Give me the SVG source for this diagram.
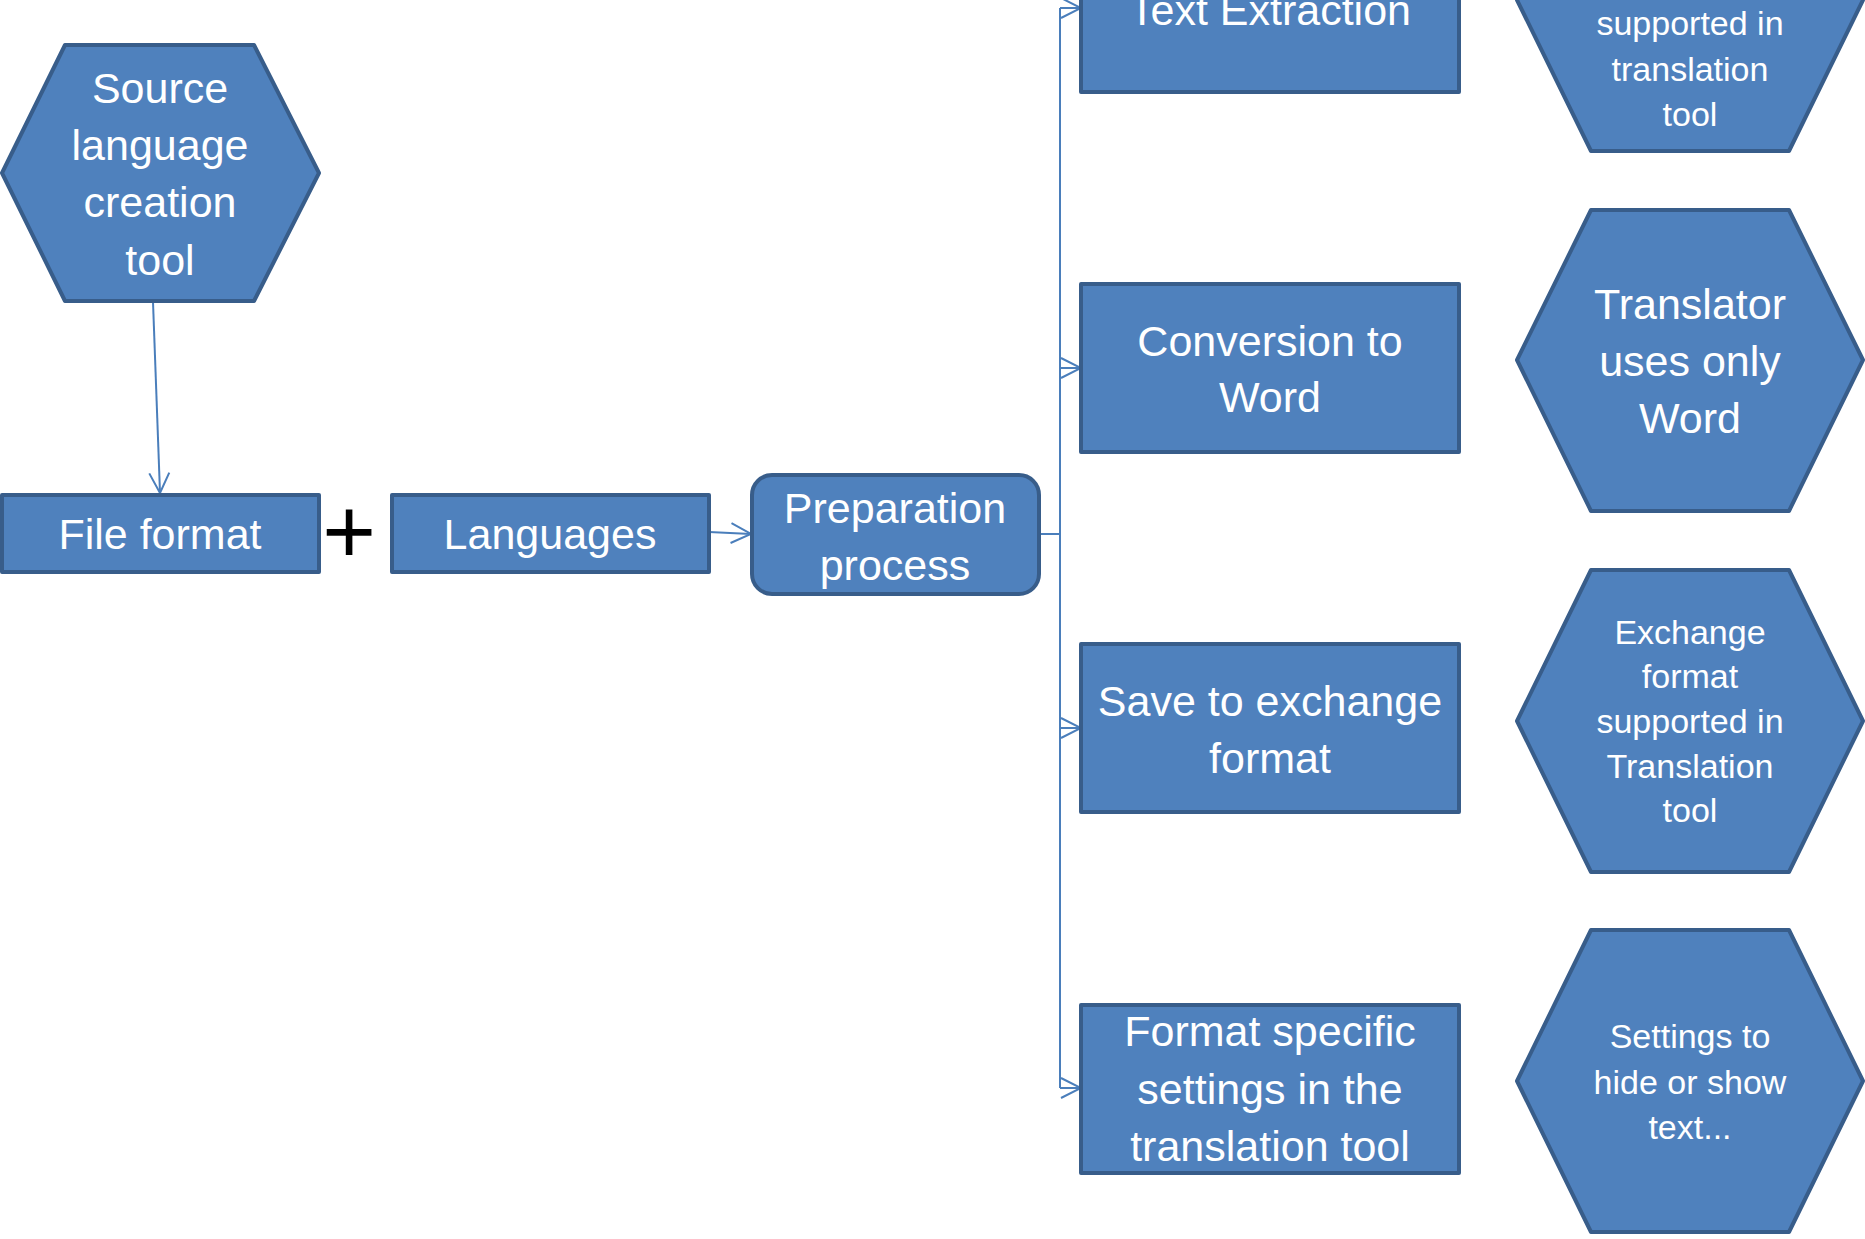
<svg xmlns="http://www.w3.org/2000/svg" width="1865" height="1239" viewBox="0 0 1865 1239">
<defs>
<style>
.n{fill:#4F81BD;stroke:#385D8A;stroke-width:4;stroke-linejoin:round}
.t{font-family:"Liberation Sans",Arial,sans-serif;fill:#FFFFFF;text-anchor:middle;font-size:43px}
.s{font-size:34px}
.c{fill:none;stroke:#4A7EBB;stroke-width:2}
</style>
<marker id="a" viewBox="0 0 24 24" refX="22" refY="12" markerWidth="24" markerHeight="24" markerUnits="userSpaceOnUse" orient="auto">
<path d="M2,2 L22,12 L2,22" fill="none" stroke="#4A7EBB" stroke-width="2"/>
</marker>
</defs>
<rect width="1865" height="1239" fill="#FFFFFF"/>
<g id="connectors">
<path class="c" d="M153,302 L160,493" marker-end="url(#a)"/>
<path class="c" d="M709,532 L751,534" marker-end="url(#a)"/>
<path class="c" d="M1039,534 L1060,534"/>
<path class="c" d="M1060,8 L1060,1088"/>
<path class="c" d="M1060,8 L1081,8" marker-end="url(#a)"/>
<path class="c" d="M1060,368 L1081,368" marker-end="url(#a)"/>
<path class="c" d="M1060,728 L1081,728" marker-end="url(#a)"/>
<path class="c" d="M1060,1088 L1081,1088" marker-end="url(#a)"/>
</g>
<g id="source">
<polygon class="n" points="2,173 65,45 254,45 319,173 254,301 65,301"/>
<text class="t" x="160" y="103">Source</text>
<text class="t" x="160" y="160">language</text>
<text class="t" x="160" y="217">creation</text>
<text class="t" x="160" y="275">tool</text>
</g>
<g id="fileformat">
<rect class="n" x="2" y="495" width="317" height="77"/>
<text class="t" x="160" y="549">File format</text>
</g>
<g id="plus">
<text x="349" y="563" font-family="Liberation Sans,Arial,sans-serif" font-size="92" fill="#000000" text-anchor="middle">+</text>
</g>
<g id="languages">
<rect class="n" x="392" y="495" width="317" height="77"/>
<text class="t" x="550" y="549">Languages</text>
</g>
<g id="preparation">
<rect class="n" x="752" y="475" width="287" height="119" rx="20" ry="20"/>
<text class="t" x="895" y="523">Preparation</text>
<text class="t" x="895" y="580">process</text>
</g>
<g id="textextraction">
<rect class="n" x="1081" y="-76" width="378" height="168"/>
<text class="t" x="1270" y="25">Text Extraction</text>
</g>
<g id="conversion">
<rect class="n" x="1081" y="284" width="378" height="168"/>
<text class="t" x="1270" y="356">Conversion to</text>
<text class="t" x="1270" y="412">Word</text>
</g>
<g id="save">
<rect class="n" x="1081" y="644" width="378" height="168"/>
<text class="t" x="1270" y="716">Save to exchange</text>
<text class="t" x="1270" y="773">format</text>
</g>
<g id="formatspecific">
<rect class="n" x="1081" y="1005" width="378" height="168"/>
<text class="t" x="1270" y="1046">Format specific</text>
<text class="t" x="1270" y="1104">settings in the</text>
<text class="t" x="1270" y="1161">translation tool</text>
</g>
<g id="hex1">
<polygon class="n" points="1517,0 1591,-151 1789,-151 1863,0 1789,151 1591,151"/>
<text class="t s" x="1690" y="35">supported in</text>
<text class="t s" x="1690" y="81">translation</text>
<text class="t s" x="1690" y="126">tool</text>
</g>
<g id="hex2">
<polygon class="n" points="1517,360 1591,210 1789,210 1863,360 1789,511 1591,511"/>
<text class="t" x="1690" y="319">Translator</text>
<text class="t" x="1690" y="376">uses only</text>
<text class="t" x="1690" y="433">Word</text>
</g>
<g id="hex3">
<polygon class="n" points="1517,721 1591,570 1789,570 1863,721 1789,872 1591,872"/>
<text class="t s" x="1690" y="644">Exchange</text>
<text class="t s" x="1690" y="688">format</text>
<text class="t s" x="1690" y="733">supported in</text>
<text class="t s" x="1690" y="778">Translation</text>
<text class="t s" x="1690" y="822">tool</text>
</g>
<g id="hex4">
<polygon class="n" points="1517,1081 1591,930 1789,930 1863,1081 1789,1232 1591,1232"/>
<text class="t s" x="1690" y="1048">Settings to</text>
<text class="t s" x="1690" y="1094">hide or show</text>
<text class="t s" x="1690" y="1139">text...</text>
</g>
</svg>
